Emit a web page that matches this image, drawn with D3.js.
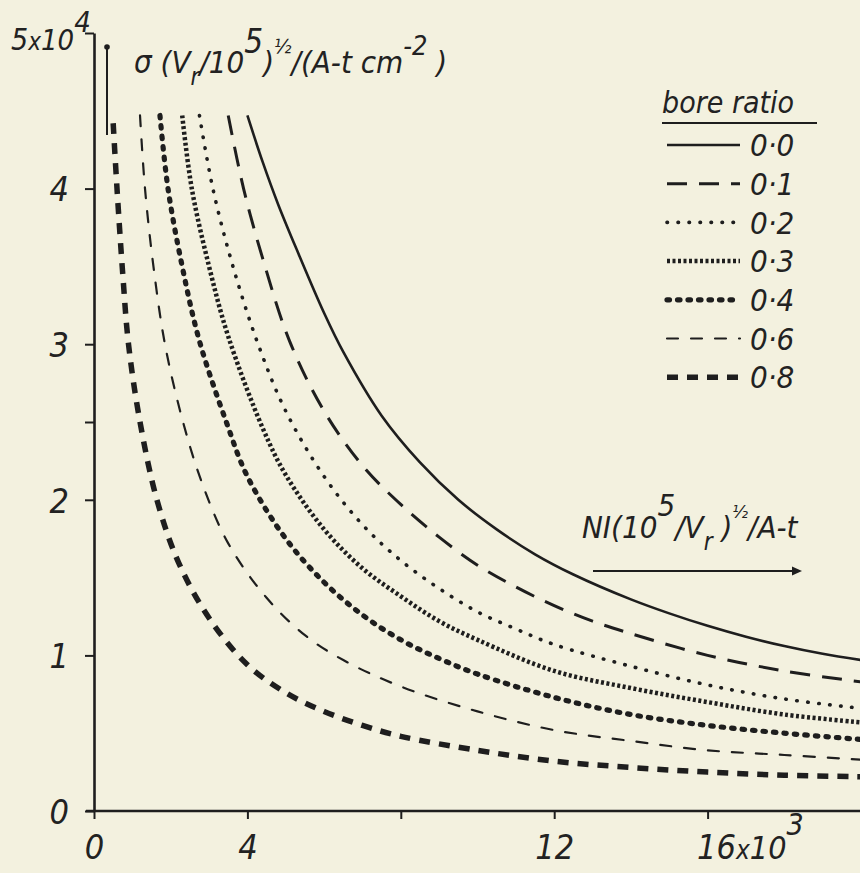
<!DOCTYPE html>
<html>
<head>
<meta charset="utf-8">
<script src="https://cdn.jsdelivr.net/npm/d3@7"></script>
<style>
  body { margin: 0; background: #f3f1df; }
  svg { display: block; }
  text { font-family: "Liberation Sans Narrow", "DejaVu Sans Condensed", sans-serif; font-style: italic; fill: #222; }
</style>
</head>
<body>
<div id="chart"></div>
<script>
// bore ratios (legend order)
var ratios = ["0·0", "0·1", "0·2", "0·3", "0·4", "0·6", "0·8"];

// curves: [NI (x10^3), sigma (x10^4)]
var curve00 = [[4.0,4.47],[4.4,4.17],[4.8,3.9],[5.3,3.6],[6.0,3.2],[6.5,2.95],[7.5,2.54],[8.5,2.24],[9.5,2.0],
               [10.5,1.81],[11.5,1.65],[12.5,1.52],[14,1.36],[15,1.27],[16,1.19],[17,1.12],[18,1.06],[19,1.01],[20,0.97]];
var curve01 = [[3.5,4.47],[3.9,4.0],[4.4,3.55],[5.1,3.02],[6,2.57],[7,2.22],[8,1.97],[9,1.76],[10,1.58],[11,1.44],
               [12,1.32],[13,1.22],[14,1.14],[16,1.0],[18,0.9],[20,0.83]];
var curve02 = [[2.75,4.47],[3.1,4.0],[3.6,3.52],[4.25,3.02],[5,2.57],[6,2.15],[7,1.84],[8,1.61],[9,1.43],[10,1.28],
               [11,1.17],[12,1.07],[14,0.93],[16,0.81],[18,0.72],[20,0.66]];
var curve03 = [[2.3,4.47],[2.55,4.0],[3.0,3.5],[3.5,3.05],[4.4,2.46],[5,2.16],[6,1.81],[7,1.56],[8,1.38],[9,1.22],
               [10,1.1],[12,0.9],[14,0.79],[16,0.7],[18,0.62],[20,0.57]];
var curve04 = [[1.72,4.47],[1.93,4.0],[2.3,3.5],[2.75,3.02],[3.45,2.5],[4,2.15],[5,1.75],[6,1.47],[7,1.26],[8,1.1],
               [9,0.98],[10,0.88],[12,0.73],[14,0.62],[16,0.55],[18,0.5],[20,0.46]];
var curve06 = [[1.2,4.47],[1.33,4.0],[1.55,3.5],[1.85,3.0],[2.3,2.52],[2.8,2.12],[3.5,1.72],[4.5,1.37],[5.5,1.13],
               [6.5,0.97],[8,0.8],[10,0.64],[12,0.52],[14,0.45],[16,0.39],[18,0.36],[20,0.33]];
var curve08 = [[0.5,4.42],[0.6,4.0],[0.75,3.45],[0.9,3.0],[1.2,2.5],[1.64,2.0],[2.2,1.6],[3,1.24],[4,0.94],[5,0.76],
               [6,0.64],[7,0.55],[8,0.48],[10,0.39],[12,0.32],[14,0.28],[16,0.25],[18,0.23],[20,0.22]];

// axis ticks
var xTicks = [0, 4, 8, 12, 16, 20];
var xTickLabels = { 0: "0", 4: "4", 12: "12", 16: "16" };
var yTicks = [0, 1, 2, 2.5, 3, 4, 5];
var yTickLabels = { 0: "0", 1: "1", 2: "2", 3: "3", 4: "4", 5: "5" };

var curves = [curve00, curve01, curve02, curve03, curve04, curve06, curve08];

// line style per ratio
var styles = [
    { w: 2.6, dash: null, cap: "butt" },
    { w: 3, dash: "20,12", cap: "butt" },
    { w: 3.6, dash: "0.5,10.5", cap: "round" },
    { w: 4.5, dash: "3,2.5", cap: "butt" },
    { w: 5.2, dash: "2.5,8", cap: "round" },
    { w: 2.2, dash: "11,13", cap: "round" },
    { w: 5.5, dash: "11,9", cap: "butt" }
];

var W = 860, H = 873;
var svg = d3.select("#chart").append("svg")
    .attr("width", W)
    .attr("height", H);

svg.append("rect").attr("width", W).attr("height", H).attr("fill", "#f3f1df");

var x = d3.scaleLinear().domain([0, 20]).range([94, 861]);
var y = d3.scaleLinear().domain([0, 5]).range([811, 33]);

var ink = "#1e1e1e";

// x axis
var xAxis = svg.append("g")
    .attr("transform", "translate(0," + y(0) + ")")
    .call(d3.axisBottom(x).tickValues(xTicks).tickSize(8).tickSizeOuter(0)
        .tickFormat(function(d){ return xTickLabels[d] || ""; }));
xAxis.select(".domain").attr("stroke", ink).attr("stroke-width", 2.6)
    .attr("d", "M" + (x(0) - 8) + ",0H" + x(20));
xAxis.selectAll(".tick line").attr("stroke", ink).attr("stroke-width", 2);
xAxis.selectAll(".tick text")
    .attr("y", 24)
    .attr("font-size", 34)
    .attr("font-family", null)
    .style("fill", "#222");
// 16 label gets the x10^3
xAxis.selectAll(".tick text").filter(function(d){ return d === 16; })
    .attr("text-anchor", "start").attr("x", -11)
    .call(function(t){
        t.append("tspan").text("x").attr("font-size", 26);
        t.append("tspan").text("10").attr("font-size", 32);
        t.append("tspan").text("3").attr("dy", -24).attr("font-size", 30);
    });

// y axis
var yAxis = svg.append("g")
    .attr("transform", "translate(" + x(0) + ",0)")
    .call(d3.axisLeft(y).tickValues(yTicks).tickSize(9).tickSizeOuter(0)
        .tickFormat(function(d){ return yTickLabels[d] || ""; }));
yAxis.select(".domain").attr("stroke", ink).attr("stroke-width", 2.6);
yAxis.selectAll(".tick line").attr("stroke", ink).attr("stroke-width", 2);
yAxis.selectAll(".tick text")
    .attr("x", -25)
    .attr("dy", "0.36em")
    .attr("font-size", 34)
    .attr("font-family", null)
    .style("fill", "#222");
yAxis.selectAll(".tick text").filter(function(d){ return d === 5; })
    .attr("x", -83).attr("text-anchor", "start").attr("dy", "0.55em")
    .attr("font-size", 30)
    .call(function(t){
        t.append("tspan").text("x").attr("font-size", 24);
        t.append("tspan").text("10").attr("font-size", 29);
        t.append("tspan").text("4").attr("dy", -18).attr("font-size", 29);
    });

// curves
var line = d3.line()
    .x(function(d){ return x(d[0]); })
    .y(function(d){ return y(d[1]); })
    .curve(d3.curveCatmullRom.alpha(0.5));

svg.selectAll("path.curve")
    .data(curves)
    .enter().append("path")
        .attr("class", "curve")
        .attr("d", line)
        .attr("fill", "none")
        .attr("stroke", ink)
        .attr("stroke-width", function(d, i){ return styles[i].w; })
        .attr("stroke-dasharray", function(d, i){ return styles[i].dash; })
        .attr("stroke-linecap", function(d, i){ return styles[i].cap; });

// y label with arrow
svg.append("line")
    .attr("x1", 107).attr("x2", 107).attr("y1", 47).attr("y2", 135)
    .attr("stroke", ink).attr("stroke-width", 2);
svg.append("circle").attr("cx", 107).attr("cy", 47).attr("r", 2.8).attr("fill", ink);

var yLab = svg.append("text").attr("x", 134).attr("y", 73).attr("font-size", 31);
yLab.append("tspan").text("σ (V");
yLab.append("tspan").text("r").attr("font-size", 24).attr("dy", 12);
yLab.append("tspan").text("/10").attr("dy", -12);
yLab.append("tspan").text("5").attr("dy", -20).attr("font-size", 33);
yLab.append("tspan").text(")").attr("dy", 20);
yLab.append("tspan").text("½").attr("font-size", 20).attr("dy", -20);
yLab.append("tspan").text("/(A-t  cm").attr("dy", 20);
yLab.append("tspan").text("-2").attr("font-size", 27).attr("dy", -18);
yLab.append("tspan").text(" )").attr("dy", 18);

// x label with arrow
var xLab = svg.append("text").attr("x", 582).attr("y", 538).attr("font-size", 31);
xLab.append("tspan").text("NI(10");
xLab.append("tspan").text("5").attr("dy", -22);
xLab.append("tspan").text("/V").attr("dy", 22);
xLab.append("tspan").text("r").attr("font-size", 24).attr("dy", 12);
xLab.append("tspan").text(" )").attr("dy", -12);
xLab.append("tspan").text("½").attr("font-size", 18).attr("dy", -20);
xLab.append("tspan").text("/A-t").attr("dy", 20);

svg.append("line")
    .attr("x1", 593).attr("x2", 794).attr("y1", 571).attr("y2", 571)
    .attr("stroke", ink).attr("stroke-width", 2);
svg.append("path")
    .attr("d", "M802,571L792,566.5L792,575.5Z")
    .attr("fill", ink);

// legend
svg.append("text").attr("x", 662).attr("y", 113).attr("font-size", 30).text("bore ratio");
svg.append("line").attr("x1", 662).attr("x2", 817).attr("y1", 123).attr("y2", 123)
    .attr("stroke", ink).attr("stroke-width", 2.2);

var legend = svg.selectAll("g.leg")
    .data(ratios)
    .enter().append("g")
        .attr("class", "leg")
        .attr("transform", function(d, i){ return "translate(0," + (145 + i * 38.7) + ")"; });

legend.append("line")
    .attr("x1", 667).attr("x2", 740).attr("y1", 0).attr("y2", 0)
    .attr("stroke", ink)
    .attr("stroke-width", function(d, i){ return styles[i].w; })
    .attr("stroke-dasharray", function(d, i){ return styles[i].dash; })
    .attr("stroke-linecap", function(d, i){ return styles[i].cap; });

legend.append("text")
    .attr("x", 750).attr("dy", "0.36em")
    .attr("font-size", 31)
    .text(function(d){ return d; });
</script>
</body>
</html>
